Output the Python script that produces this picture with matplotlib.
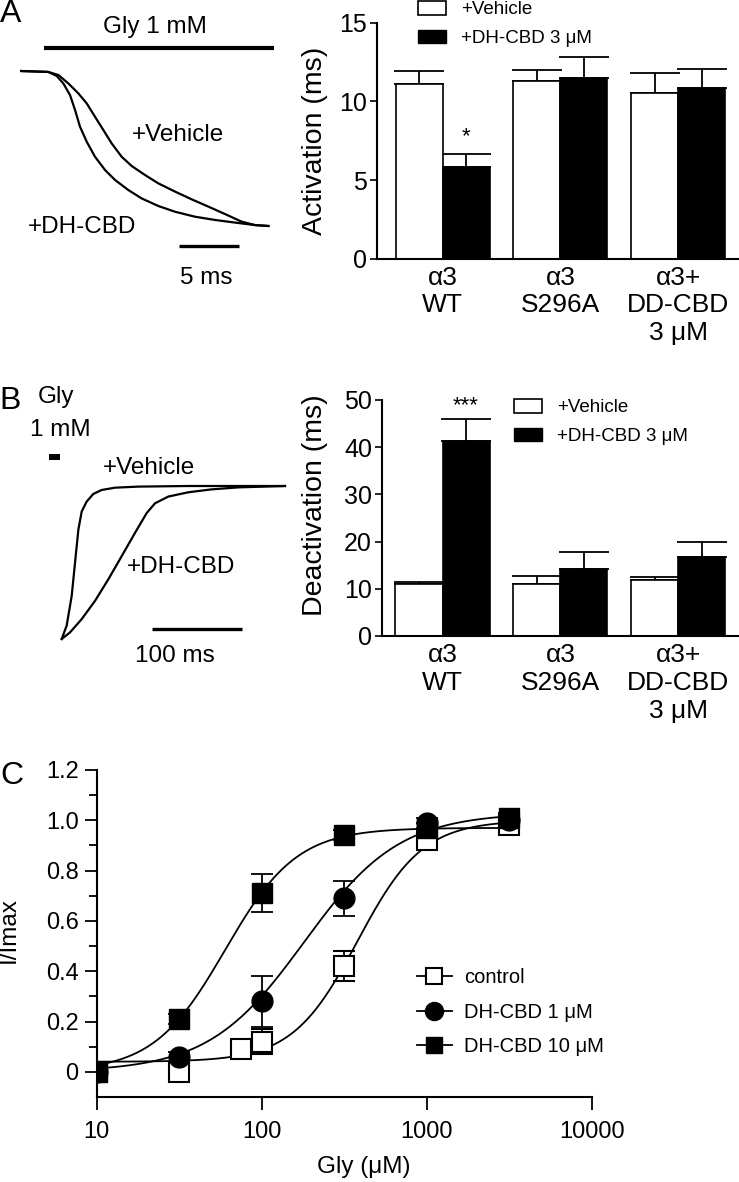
import numpy as np
import matplotlib.pyplot as plt
from matplotlib.lines import Line2D
from matplotlib.patches import Patch

plt.rcParams['font.family'] = ['Liberation Sans', 'DejaVu Sans']

# - - - data

# A: activation traces (time in ms, current normalised to peak)
act_t_vehicle = [0, 2.30, 3.14, 3.97, 4.80, 5.50, 6.19, 6.89, 7.58, 8.41, 9.25, 10.36,
                 11.47, 12.86, 14.25, 15.64, 17.03, 18.41, 19.52, 20.64]
act_i_vehicle = [0, -0.006, -0.026, -0.080, -0.144, -0.209, -0.295, -0.381, -0.467, -0.553, -0.613, -0.671,
                 -0.725, -0.778, -0.828, -0.875, -0.923, -0.972, -0.994, -1.0]
act_t_dhcbd = [0, 2.30, 3.00, 3.55, 4.11, 4.53, 4.94, 5.50, 6.19, 7.03, 7.86, 8.97,
               10.08, 11.47, 12.86, 14.52, 16.19, 17.86, 19.52, 20.64]
act_i_dhcbd = [0, -0.006, -0.032, -0.080, -0.155, -0.252, -0.359, -0.456, -0.553, -0.639, -0.703, -0.768,
               -0.822, -0.871, -0.908, -0.940, -0.961, -0.978, -0.994, -1.0]
gly_pulse_a = [1.97, 21.13]     # ms
scale_a_ms = 5

# B: deactivation traces
deact_t_vehicle = [0, 5.5, 11.1, 14.8, 18.5, 22.2, 27.7, 35.1, 44.4, 59.2, 85.1, 140.7, 248.1]
deact_i_vehicle = [-1.0, -0.913, -0.719, -0.502, -0.286, -0.167, -0.102, -0.052, -0.026, -0.011,
                   -0.004, 0, 0]
deact_t_dhcbd = [0, 9.2, 22.2, 37.0, 51.8, 66.6, 81.4, 94.4, 103.7, 118.5, 140.7, 166.6, 196.3, 248.1]
deact_i_dhcbd = [-1.0, -0.957, -0.870, -0.751, -0.610, -0.459, -0.307, -0.177, -0.113, -0.069,
                 -0.041, -0.022, -0.009, 0]
gly_pulse_b = [-14.1, -1.9]     # ms
scale_b_ms = 100

# bar charts
groups = ['α3\nWT', 'α3\nS296A', 'α3+\nDD-CBD\n3 μM']
act_veh = [11.08, 11.29, 10.51]
act_veh_err = [0.85, 0.70, 1.31]
act_dh = [5.85, 11.46, 10.83]
act_dh_err = [0.80, 1.34, 1.20]
deact_veh = [10.95, 11.02, 11.79]
deact_veh_err = [0.50, 1.70, 0.78]
deact_dh = [41.38, 14.27, 16.67]
deact_dh_err = [4.66, 3.60, 3.17]

# C: glycine concentration-response
gly = [10, 31.6, 75, 100, 316, 1000, 3162]
ctrl = [0.0, 0.0, 0.09, 0.12, 0.42, 0.92, 0.98]
ctrl_err = [0.02, 0.02, 0.02, 0.05, 0.06, 0.02, 0.02]
gly2 = [10, 31.6, 100, 316, 1000, 3162]
dh1 = [0.0, 0.06, 0.28, 0.69, 0.99, 1.0]
dh1_err = [0.02, 0.02, 0.10, 0.07, 0.02, 0.02]
dh10 = [0.0, 0.21, 0.71, 0.94, 0.97, 1.01]
dh10_err = [0.02, 0.02, 0.075, 0.02, 0.02, 0.02]
# Hill fits: bottom, top, EC50 (uM), nH
fit_ctrl = [0.04, 1.0, 380, 2.2]
fit_dh1 = [0.0, 1.03, 180, 1.5]
fit_dh10 = [0.0, 0.97, 60, 2.0]

# - - - layout helpers (pixel positions of the 739x1182 figure)
W, H = 739, 1182
fig = plt.figure(figsize=(W / 100, H / 100), dpi=100)


def box(x0, y0, x1, y1):
    return [x0 / W, 1 - y1 / H, (x1 - x0) / W, (y1 - y0) / H]


def ptext(x, y, s, **kw):
    kw.setdefault('ha', 'center')
    kw.setdefault('va', 'center')
    fig.text(x / W, 1 - y / H, s, **kw)


# - - - A traces
axa = fig.add_axes(box(20, 30, 280, 290))
axa.axis('off')
axa.set_xlim((20 - 20.7) / 12, (280 - 20.7) / 12)
axa.set_ylim(-(290 - 71) / 155, (71 - 30) / 155)
axa.plot(act_t_vehicle, act_i_vehicle, 'k-', lw=1.6)
axa.plot(act_t_dhcbd, act_i_dhcbd, 'k-', lw=1.6)
axa.plot(gly_pulse_a, [0.148, 0.148], 'k-', lw=3, solid_capstyle='butt')
axa.plot([13.19, 13.19 + scale_a_ms], [-1.129, -1.129], 'k-', lw=2.4, solid_capstyle='butt')
ptext(11, 14, 'A', fontsize=23)
ptext(155, 27, 'Gly 1 mM', fontsize=17.5)
ptext(132, 135, '+Vehicle', fontsize=17.5, ha='left')
ptext(28, 227, '+DH-CBD', fontsize=17.5, ha='left')
ptext(206, 278, '5 ms', fontsize=17.5)

# - - - B traces
axb = fig.add_axes(box(20, 385, 290, 665))
axb.axis('off')
axb.set_xlim((20 - 61.7) / 0.9, (290 - 61.7) / 0.9)
axb.set_ylim(-(665 - 486) / 153, (486 - 385) / 153)
axb.plot(deact_t_vehicle, deact_i_vehicle, 'k-', lw=1.6)
axb.plot(deact_t_dhcbd, deact_i_dhcbd, 'k-', lw=1.6)
axb.plot(gly_pulse_b, [0.19, 0.19], 'k-', lw=4.3, solid_capstyle='butt')
axb.plot([100.7, 100.7 + scale_b_ms], [-0.935, -0.935], 'k-', lw=2.4, solid_capstyle='butt')
ptext(10, 401, 'B', fontsize=23)
ptext(56, 397, 'Gly', fontsize=17.5)
ptext(60, 430, '1 mM', fontsize=17.5)
ptext(103, 468, '+Vehicle', fontsize=17.5, ha='left')
ptext(127, 567, '+DH-CBD', fontsize=17.5, ha='left')
ptext(175, 656, '100 ms', fontsize=17.5)


# - - - bar charts
def bar_panel(rect, veh, veh_err, dh, dh_err, ymax, step, ylabel, xlim_left):
    ax = fig.add_axes(rect)
    x = np.arange(len(groups))
    w = 0.4
    ax.bar(x - w / 2, veh, w, color='white', edgecolor='k', lw=1.2, zorder=2)
    ax.bar(x + w / 2, dh, w, color='k', edgecolor='k', lw=1.2, zorder=2)
    ax.errorbar(x - w / 2, veh, yerr=[np.zeros(3), veh_err], fmt='none', ecolor='k',
                elinewidth=1.3, capsize=18, capthick=1.3, zorder=1)
    ax.errorbar(x + w / 2, dh, yerr=[np.zeros(3), dh_err], fmt='none', ecolor='k',
                elinewidth=1.3, capsize=18, capthick=1.3, zorder=1)
    ax.set_xlim(xlim_left, 2.526)
    ax.set_ylim(0, ymax)
    ax.set_yticks(np.arange(0, ymax + 1, step))
    ax.set_xticks(x)
    ax.set_xticklabels(groups, fontsize=19, linespacing=1.2)
    ax.tick_params(axis='x', length=0, pad=5)
    ax.tick_params(axis='y', length=5, width=1.2, pad=2, labelsize=18)
    for s in ['top', 'right']:
        ax.spines[s].set_visible(False)
    for s in ['left', 'bottom']:
        ax.spines[s].set_linewidth(1.5)
    ax.set_ylabel(ylabel, fontsize=20.5)
    return ax


bar_legend = dict(bbox_transform=fig.transFigure, loc='upper left', frameon=False,
                  fontsize=13.5, borderpad=0, borderaxespad=0, handlelength=1.5,
                  handleheight=0.75, handletextpad=0.8, labelspacing=0.6)

axA = bar_panel(box(377, 22.7, 740, 258.7), act_veh, act_veh_err, act_dh, act_dh_err,
                15, 5, 'Activation (ms)', -0.558)
axA.yaxis.set_label_coords(-0.135, 0.5)
axA.text(0.2, act_dh[0] + act_dh_err[0] + 1.09, '*', ha='center', va='center', fontsize=16)
axA.legend([Patch(facecolor='white', edgecolor='k', lw=1.2), Patch(facecolor='k', edgecolor='k')],
           ['+Vehicle', '+DH-CBD 3 μM'], bbox_to_anchor=(418 / W, 1 - 1 / H), **bar_legend)

axB = bar_panel(box(381.7, 400, 740, 636), deact_veh, deact_veh_err, deact_dh, deact_dh_err,
                50, 10, 'Deactivation (ms)', -0.517)
axB.yaxis.set_label_coords(-0.15, 0.555)
axB.text(0.2, deact_dh[0] + deact_dh_err[0] + 2.7, '***', ha='center', va='center', fontsize=16)
axB.legend([Patch(facecolor='white', edgecolor='k', lw=1.2), Patch(facecolor='k', edgecolor='k')],
           ['+Vehicle', '+DH-CBD 3 μM'], bbox_to_anchor=(514 / W, 1 - 399 / H), **bar_legend)


# - - - C concentration-response
def hill(c, p):
    bottom, top, ec50, nh = p
    return bottom + (top - bottom) / (1 + (ec50 / c) ** nh)


axC = fig.add_axes(box(96.7, 770, 592, 1097))
cc = np.logspace(1, np.log10(3162), 200)
for p in [fit_ctrl, fit_dh1, fit_dh10]:
    axC.plot(cc, hill(cc, p), 'k-', lw=1.3, zorder=2)
axC.errorbar(gly, ctrl, yerr=ctrl_err, fmt='s', mfc='white', mec='k', mew=1.5, ms=14,
             ecolor='k', elinewidth=1.3, capsize=8, capthick=1.3, zorder=3)
axC.errorbar(gly2, dh1, yerr=dh1_err, fmt='o', mfc='k', mec='k', ms=15,
             ecolor='k', elinewidth=1.3, capsize=8, capthick=1.3, zorder=4)
axC.errorbar(gly2, dh10, yerr=dh10_err, fmt='s', mfc='k', mec='k', ms=14,
             ecolor='k', elinewidth=1.3, capsize=8, capthick=1.3, zorder=5)
axC.set_xscale('log')
axC.set_xlim(10, 10000)
axC.set_ylim(-0.1, 1.2)
axC.set_xticks([10, 100, 1000, 10000])
axC.set_xticklabels(['10', '100', '1000', '10000'])
axC.xaxis.set_minor_locator(plt.NullLocator())
axC.set_yticks([0, 0.2, 0.4, 0.6, 0.8, 1.0, 1.2])
axC.set_yticklabels(['0', '0.2', '0.4', '0.6', '0.8', '1.0', '1.2'])
axC.set_yticks(np.arange(0.1, 1.2, 0.2), minor=True)
axC.tick_params(which='major', length=9, width=1.3, labelsize=17)
axC.tick_params(axis='x', pad=8)
axC.tick_params(axis='y', pad=4)
axC.tick_params(which='minor', length=6, width=1.3)
for s in ['top', 'right']:
    axC.spines[s].set_visible(False)
for s in ['left', 'bottom']:
    axC.spines[s].set_linewidth(1.5)
axC.set_xlabel('Gly (μM)', fontsize=17.5)
axC.xaxis.set_label_coords(0.54, -0.18)
axC.set_ylabel('I/Imax', fontsize=17.5)
axC.yaxis.set_label_coords(-0.155, 0.51)
ptext(11.5, 776, 'C', fontsize=23)

handles = [Line2D([], [], color='k', lw=1.3, marker='s', mfc='white', mec='k', mew=1.5, ms=12),
           Line2D([], [], color='k', lw=1.3, marker='o', mfc='k', mec='k', ms=13),
           Line2D([], [], color='k', lw=1.3, marker='s', mfc='k', mec='k', ms=12)]
axC.legend(handles, ['control', 'DH-CBD 1 μM', 'DH-CBD 10 μM'], loc='upper left',
           bbox_to_anchor=(416.7 / W, 1 - 968 / H), bbox_transform=fig.transFigure,
           frameon=False, fontsize=14.5, borderpad=0, borderaxespad=0,
           handlelength=1.75, handletextpad=0.6, labelspacing=0.78)

fig.savefig('out.png', dpi=100)
